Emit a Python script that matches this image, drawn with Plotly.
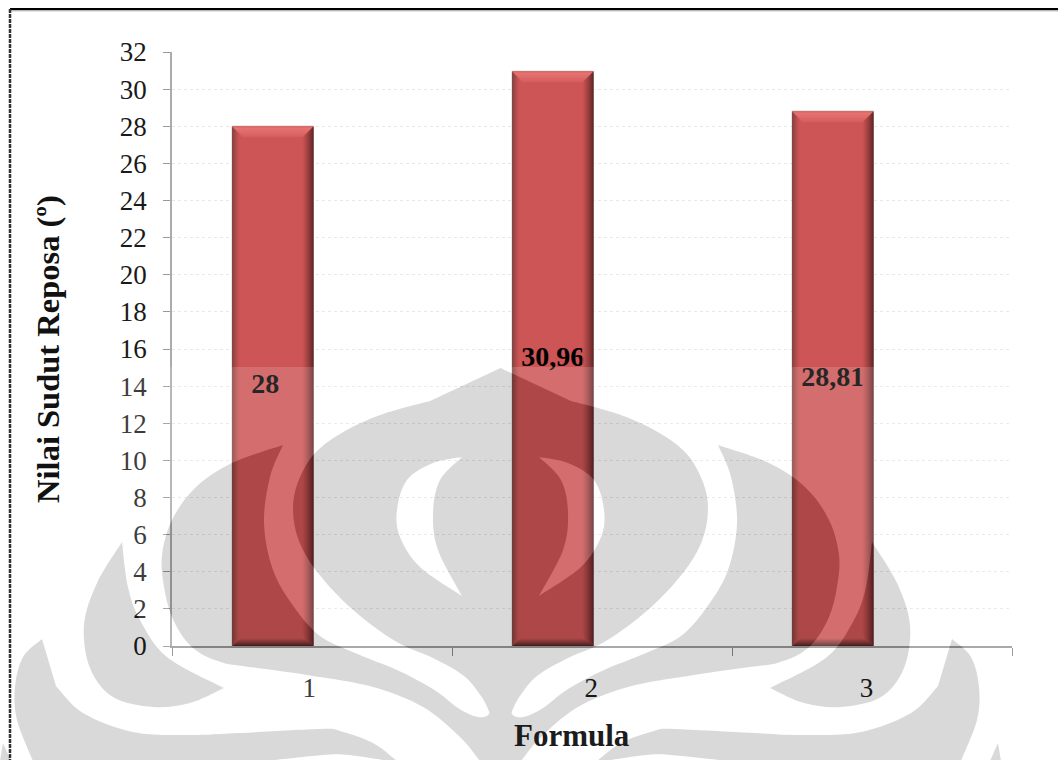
import plotly.graph_objects as go

# Chart data
CATEGORIES = ["1", "2", "3"]
VALUES = [28, 30.96, 28.81]
Y_TICKS = list(range(0, 33, 2))
CATEGORY_POS = [1, 2, 3]

# Page geometry (pixels) used to place the decoration
PAGE_W, PAGE_H = 1058, 760
PLOT_L, PLOT_R, PLOT_T, PLOT_B = 172, 1012, 52, 646

BAR_WIDTH = 0.29
BAR_SHIFT = -0.14
LABEL_NUDGE = [-0.027, 0, 0]
TICK_LABEL_POS = [0.99, 1.997, 2.98]

SERIF = "Liberation Serif"
BAR_FILL = (205, 85, 85)

# Emblem outline, left half, as smooth runs joined at corners
MAIN_AXIS = 500.5
OUTER_AXIS = 497
MAIN_RUNS = [
    [(500.5, 368), (430, 401)],
    [(430, 401), (383, 414), (345, 431), (315, 453), (298, 482), (293, 510), (299, 541),
     (318, 573), (352, 609), (395, 641), (433, 658), (464, 676), (481, 696), (488, 709),
     (489, 714), (484, 717), (474, 716), (458, 708), (433, 689), (397, 670), (355, 653),
     (320, 636), (294, 607), (273, 570), (264, 523), (270, 477), (283, 445)],
    [(283, 445), (232, 463), (195, 488), (172, 520), (162, 555), (164, 587), (172, 617),
     (187, 642), (205, 656), (227, 664)],
    [(227, 664), (307, 675), (373, 687), (423, 707), (460, 737), (480, 761)],
]
CRESCENT_RUNS = [
    [(462, 457), (433, 463), (407, 480), (397, 510), (400, 537), (420, 567), (462, 596)],
    [(462, 596), (438, 550), (433, 513), (440, 480), (462, 457)],
]
LOBE_RUNS = [
    [(122, 542), (128, 587), (140, 620), (167, 657), (224, 688)],
    [(224, 688), (190, 703), (153, 707), (113, 697), (90, 668), (84, 625), (97, 583), (122, 542)],
]
BASE_RUNS = [
    [(42, 639), (23, 657), (15, 687), (17, 720), (33, 761)],
    [(33, 761), (266, 761)],
    [(266, 761), (323, 755), (349, 755), (389, 761)],
    [(389, 761), (397, 761)],
    [(397, 761), (373, 743), (340, 731), (320, 729), (240, 733), (187, 735), (133, 732), (83, 713), (56, 686)],
    [(56, 686), (42, 639)],
]
CORNER_RUNS = [[(3, 743), (11, 761)], [(11, 761), (0, 761)], [(0, 761), (3, 743)]]


def px(x, y):
    return (x - PLOT_L) / (PLOT_R - PLOT_L), (PLOT_B - y) / (PLOT_B - PLOT_T)


def fmt(x, y):
    a, b = px(x, y)
    return f"{a:.5f},{b:.5f}"


def smooth_run(pts):
    """Catmull-Rom run through the points, written as cubic path commands."""
    if len(pts) == 2:
        return f"L{fmt(*pts[1])}"
    out = []
    for i in range(len(pts) - 1):
        p0 = pts[max(i - 1, 0)]
        p1 = pts[i]
        p2 = pts[i + 1]
        p3 = pts[min(i + 2, len(pts) - 1)]
        c1 = (p1[0] + (p2[0] - p0[0]) / 6, p1[1] + (p2[1] - p0[1]) / 6)
        c2 = (p2[0] - (p3[0] - p1[0]) / 6, p2[1] - (p3[1] - p1[1]) / 6)
        out.append(f"C{fmt(*c1)} {fmt(*c2)} {fmt(*p2)}")
    return " ".join(out)


def subpath(runs):
    return f"M{fmt(*runs[0][0])} " + " ".join(smooth_run(r) for r in runs) + " Z"


def mirrored(runs, axis):
    return [[(2 * axis - x, y) for x, y in r] for r in runs]


def reversed_runs(runs):
    return [list(reversed(r)) for r in reversed(runs)]


main_path = subpath(MAIN_RUNS + [[(480, 761), (521, 761)]] + reversed_runs(mirrored(MAIN_RUNS, MAIN_AXIS)))
emblem_parts = [
    main_path,
    subpath(CRESCENT_RUNS),
    subpath(mirrored(CRESCENT_RUNS, MAIN_AXIS)),
    subpath(LOBE_RUNS),
    subpath(mirrored(LOBE_RUNS, OUTER_AXIS)),
    subpath(BASE_RUNS),
    subpath(mirrored(BASE_RUNS, OUTER_AXIS)),
    subpath(CORNER_RUNS),
    subpath(mirrored(CORNER_RUNS, MAIN_AXIS)),
]
emblem_path = " ".join(emblem_parts)
veil_path = (
    f"M{fmt(0, 367)} L{fmt(PAGE_W, 367)} L{fmt(PAGE_W, 761)} L{fmt(0, 761)} Z " + emblem_path
)

# Bevel: nested one-pixel strips around each bar, built from the bar's value
X_UNIT = 1 / ((PLOT_R - PLOT_L) / 3)
Y_UNIT = 32 / (PLOT_B - PLOT_T)


def lerp(a, b, t):
    return tuple(round(a[i] + (b[i] - a[i]) * t) for i in range(3))


def rgb(c):
    return f"rgb({c[0]},{c[1]},{c[2]})"


BEVELS = {
    "right": (11, (52, 18, 18), 1.3),
    "left": (7, (112, 58, 58), 1.2),
    "bottom": (8, (74, 30, 30), 1.2),
}
TOP_DEPTH = 11
TOP_EDGE = (222, 108, 106)
TOP_PEAK = (236, 122, 120)
TOP_INNER = (214, 94, 92)


def bevel_shapes(pos, value):
    left = pos + BAR_SHIFT - BAR_WIDTH / 2
    right = pos + BAR_SHIFT + BAR_WIDTH / 2
    shapes = []

    def strip(x0, x1, y0, y1, colour):
        shapes.append(dict(type="rect", xref="x", yref="y", x0=x0, x1=x1, y0=y0, y1=y1,
                           fillcolor=rgb(colour), line=dict(width=0), layer="above"))

    for i in range(TOP_DEPTH):
        colour = lerp(TOP_EDGE, TOP_PEAK, i / 2) if i < 2 else lerp(TOP_PEAK, TOP_INNER, (i - 2) / (TOP_DEPTH - 2))
        strip(left + i * X_UNIT, right - i * X_UNIT,
              value - (i + 1) * Y_UNIT, value - i * Y_UNIT, colour)

    for side, (depth, edge, power) in BEVELS.items():
        for i in range(depth):
            t = ((i + 0.5) / depth) ** (1 / power)
            colour = lerp(edge, BAR_FILL, t)
            if side == "right":
                strip(right - (i + 1) * X_UNIT, right - i * X_UNIT,
                      i * Y_UNIT, value - (i + 1) * Y_UNIT, colour)
            elif side == "left":
                strip(left + i * X_UNIT, left + (i + 1) * X_UNIT,
                      i * Y_UNIT, value - (i + 1) * Y_UNIT, colour)
            else:
                strip(left + (i + 1) * X_UNIT, right - (i + 1) * X_UNIT,
                      i * Y_UNIT, (i + 1) * Y_UNIT, colour)
    return shapes


fig = go.Figure()
bar_x = [p + BAR_SHIFT for p in CATEGORY_POS]
fig.add_bar(
    x=bar_x,
    y=VALUES,
    width=BAR_WIDTH,
    marker=dict(color=rgb(BAR_FILL), line=dict(color="rgba(110,100,100,0.55)", width=1)),
    hoverinfo="skip",
    showlegend=False,
)
fig.add_scatter(
    x=[x + n for x, n in zip(bar_x, LABEL_NUDGE)],
    y=[v / 2 for v in VALUES],
    mode="text",
    text=["<b>" + f"{v:g}".replace(".", ",") + "</b>" for v in VALUES],
    textposition="middle center",
    textfont=dict(family=SERIF, size=28, color="#000000"),
    hoverinfo="skip",
    showlegend=False,
)

shapes = []
for p, v in zip(CATEGORY_POS, VALUES):
    shapes += bevel_shapes(p, v)

# Translucent emblem over the lower part of the page
shapes.append(dict(type="path", xref="paper", yref="paper", path=veil_path, fillrule="evenodd",
                   fillcolor="rgba(255,255,255,0.15)", line=dict(width=0), layer="above"))
shapes.append(dict(type="path", xref="paper", yref="paper", path=emblem_path, fillrule="evenodd",
                   fillcolor="rgba(0,0,0,0.15)", line=dict(width=0), layer="above"))

# Page frame: top and left rules
fx0, fy0 = px(10, 9)
fx1, _ = px(PAGE_W, 9)
_, fy1 = px(10, PAGE_H)
_, gy = px(10, 10.8)
shapes.append(dict(type="line", xref="paper", yref="paper", x0=fx0, x1=fx1, y0=gy, y1=gy,
                   line=dict(color="#9a9a9a", width=1), layer="above"))
shapes.append(dict(type="line", xref="paper", yref="paper", x0=fx0, x1=fx1, y0=fy0, y1=fy0,
                   line=dict(color="#000000", width=2), layer="above"))
shapes.append(dict(type="line", xref="paper", yref="paper", x0=fx0, x1=fx0, y0=fy0, y1=fy1,
                   line=dict(color="#333333", width=2.5, dash="4px,1px"), layer="above"))

fig.update_layout(
    width=PAGE_W,
    height=PAGE_H,
    autosize=False,
    margin=dict(l=PLOT_L, r=PAGE_W - PLOT_R, t=PLOT_T, b=PAGE_H - PLOT_B, pad=0),
    paper_bgcolor="white",
    plot_bgcolor="white",
    shapes=shapes,
    font=dict(family=SERIF, color="#111111"),
    annotations=[
        dict(text="<b>Formula</b>", xref="paper", yref="paper", x=(572 - PLOT_L) / (PLOT_R - PLOT_L),
             y=(PLOT_B - 735) / (PLOT_B - PLOT_T), xanchor="center", yanchor="middle", showarrow=False,
             font=dict(family=SERIF, size=31, color="#1c1c1c")),
    ],
    xaxis=dict(
        type="linear",
        range=[0.5, 3.5],
        tickmode="array",
        tickvals=TICK_LABEL_POS,
        ticktext=CATEGORIES,
        ticks="",
        ticklabelstandoff=17,
        tickfont=dict(family=SERIF, size=27, color="#1a1a1a"),
        showgrid=False,
        zeroline=False,
        showline=True,
        linecolor="#9a9a9a",
        linewidth=2,
        layer="below traces",
        minor=dict(tickmode="array", tickvals=[0.5, 1.5, 2.5, 3.5], ticks="outside",
                   ticklen=8, tickwidth=1, tickcolor="#8c8c8c", showgrid=False),
        fixedrange=True,
    ),
    yaxis=dict(
        range=[0, 32],
        tickmode="array",
        tickvals=Y_TICKS,
        ticks="outside",
        ticklen=7,
        tickwidth=1,
        tickcolor="#999999",
        ticklabelstandoff=11,
        tickfont=dict(family=SERIF, size=27, color="#1a1a1a"),
        showgrid=True,
        gridcolor="#e8e8e8",
        gridwidth=1,
        griddash="dot",
        zeroline=False,
        showline=True,
        linecolor="#ababab",
        linewidth=1.5,
        layer="below traces",
        title=dict(text="<b>Nilai Sudut Reposa (º)</b>", standoff=50,
                   font=dict(family=SERIF, size=32.5, color="#111111")),
        fixedrange=True,
    ),
)

fig.write_html("out.html", config=dict(displayModeBar=False))
